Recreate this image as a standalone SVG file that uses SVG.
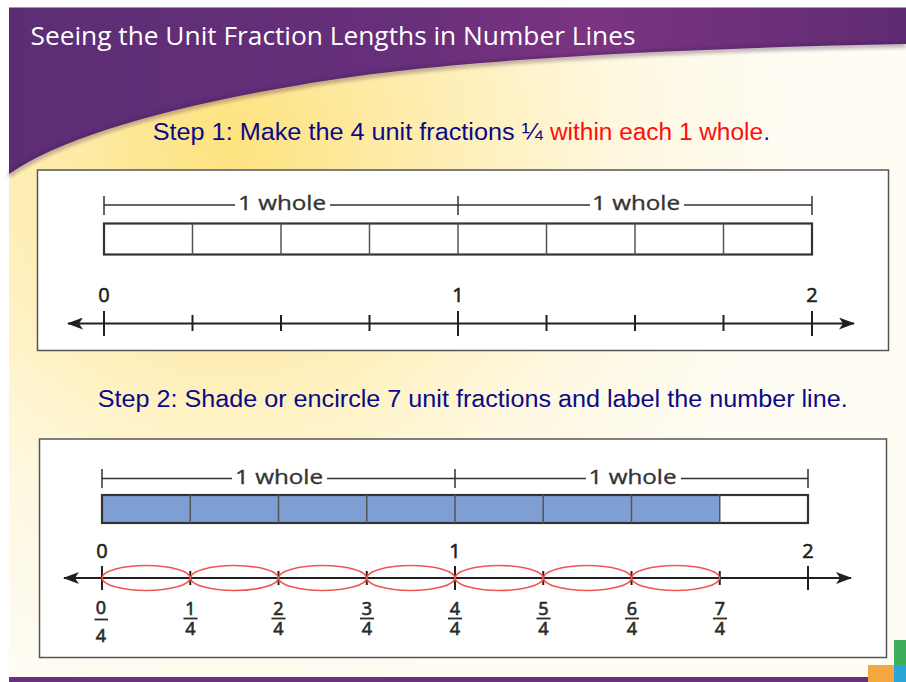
<svg xmlns="http://www.w3.org/2000/svg" width="906" height="682" viewBox="0 0 906 682">
  <defs>
    <style>
      .title { font-family: "Open Sans", "Liberation Sans", sans-serif; font-size: 25px; fill: #ffffff; }
      .step { font-family: "Liberation Sans", Arial, sans-serif; font-size: 23px; fill: #0a0a86; }
      .red { fill: #ff0d0d; }
      .lbl { font-family: "Open Sans", "Liberation Sans", sans-serif; font-size: 20px; fill: #231f20; stroke: #231f20; stroke-width: 0.6; text-anchor: middle; }
      .whole { font-family: "Open Sans", "Liberation Sans", sans-serif; font-size: 20px; fill: #333333; stroke: #333333; stroke-width: 0.35; text-anchor: middle; }
      .frac { font-family: "Open Sans", "Liberation Sans", sans-serif; font-size: 18px; fill: #2b2b2b; stroke: #2b2b2b; stroke-width: 0.7; text-anchor: middle; }
      .box { fill: #ffffff; stroke: #555555; stroke-width: 1.5; }
      .brk { stroke: #333333; stroke-width: 1.5; fill: none; }
      .bar { fill: none; stroke: #333333; stroke-width: 2.2; }
      .div { stroke: #555555; stroke-width: 1.5; }
      .nl { stroke: #231f20; stroke-width: 2.2; fill: none; }
      .tk { stroke: #231f20; stroke-width: 2; }
      .fb { stroke: #2b2b2b; stroke-width: 1.8; }
      .ell { fill: none; stroke: #f2554d; stroke-width: 1.6; }
    </style>
    <linearGradient id="purp" x1="0" y1="0" x2="1" y2="0">
      <stop offset="0" stop-color="#5c2d75"/>
      <stop offset="0.45" stop-color="#682f7b"/>
      <stop offset="0.65" stop-color="#7b3481"/>
      <stop offset="1" stop-color="#5f2b72"/>
    </linearGradient>
    <radialGradient id="glow" cx="230" cy="140" r="560" gradientUnits="userSpaceOnUse">
      <stop offset="0" stop-color="#fde27e"/>
      <stop offset="0.35" stop-color="#feedb0"/>
      <stop offset="0.7" stop-color="#fef8e0"/>
      <stop offset="1" stop-color="#fefcf3"/>
    </radialGradient>
    <filter id="blur" x="-5%" y="-50%" width="110%" height="200%">
      <feGaussianBlur stdDeviation="2"/>
    </filter>
    <marker id="arr" viewBox="0 0 16 12" markerWidth="16" markerHeight="12" refX="15" refY="6" orient="auto-start-reverse" markerUnits="userSpaceOnUse">
      <path d="M0,0 L16,6 L0,12 L4,6 Z" fill="#231f20"/>
    </marker>
  </defs>

  <!-- background -->
  <rect x="0" y="0" width="906" height="682" fill="#ffffff"/>
  <rect x="9" y="7.5" width="897" height="674.5" fill="url(#glow)"/>
  <path d="M9,7.5 H906 V44 C700,48 450,58 300,85 C170,106 60,138 9,174 Z" fill="url(#purp)"/>
  <path d="M906,45 C700,49 450,59 300,86 C170,107 60,139 9,175" fill="none" stroke="#351447" stroke-width="3" opacity="0.55" filter="url(#blur)"/>
  <text class="title" x="30.5" y="45" textLength="605" lengthAdjust="spacingAndGlyphs">Seeing the Unit Fraction Lengths in Number Lines</text>

  <!-- bottom decoration -->
  <rect x="9" y="677" width="859" height="5" fill="#6a2f7d"/>
  <rect x="894" y="640" width="12" height="25" fill="#3fae5a"/>
  <rect x="868" y="665" width="26" height="17" fill="#f4a640"/>
  <rect x="894" y="665" width="12" height="17" fill="#2aa6d6"/>

  <!-- step texts -->
  <g id="step1-text">
    <text class="step" x="152.7" y="139.5" textLength="390" lengthAdjust="spacingAndGlyphs">Step 1: Make the 4 unit fractions ¼</text>
    <text class="step red" x="550" y="139.5" textLength="213" lengthAdjust="spacingAndGlyphs">within each 1 whole</text>
    <text class="step" x="763.5" y="139.5">.</text>
  </g>
  <g id="step2-text">
    <text class="step" x="97.7" y="407" textLength="750" lengthAdjust="spacingAndGlyphs">Step 2: Shade or encircle 7 unit fractions and label the number line.</text>
  </g>

  <!-- Step 1 panel -->
  <g id="panel1">
    <rect class="box" x="37.5" y="170" width="851" height="180.5"/>
    <g id="p1-brackets">
      <path class="brk" d="M104,205 H235 M330,205 H590 M684,205 H812 M104,196 V215 M458,196 V215 M812,196 V215"/>
      <text class="whole" x="282" y="210" textLength="88" lengthAdjust="spacingAndGlyphs">1 whole</text>
      <text class="whole" x="636" y="210" textLength="88" lengthAdjust="spacingAndGlyphs">1 whole</text>
    </g>
    <g id="p1-bar">
      <rect class="bar" x="104" y="223.5" width="708" height="31"/>
      <path class="div" d="M192.5,223.5 V254.5 M281,223.5 V254.5 M369.5,223.5 V254.5 M458,223.5 V254.5 M546.5,223.5 V254.5 M635,223.5 V254.5 M723.5,223.5 V254.5"/>
    </g>
    <g id="p1-numberline">
      <line class="nl" x1="68" y1="323.5" x2="854" y2="323.5" marker-start="url(#arr)" marker-end="url(#arr)"/>
      <path class="tk" d="M104,311 V336 M458,311 V336 M812,311 V336 M192.5,315 V331 M281,315 V331 M369.5,315 V331 M546.5,315 V331 M635,315 V331 M723.5,315 V331"/>
      <text class="lbl" x="104" y="302">0</text>
      <text class="lbl" x="458" y="302">1</text>
      <text class="lbl" x="812" y="302">2</text>
    </g>
  </g>

  <!-- Step 2 panel -->
  <g id="panel2">
    <rect class="box" x="39.5" y="439" width="847" height="218.5"/>
    <g id="p2-brackets">
      <path class="brk" d="M102,478.5 H232 M327,478.5 H586 M681,478.5 H808 M102,469 V488 M455,469 V488 M808,469 V488"/>
      <text class="whole" x="279" y="483.5" textLength="88" lengthAdjust="spacingAndGlyphs">1 whole</text>
      <text class="whole" x="632.5" y="483.5" textLength="88" lengthAdjust="spacingAndGlyphs">1 whole</text>
    </g>
    <g id="p2-bar">
      <rect x="102" y="495" width="618" height="28" fill="#7f9ed3"/>
      <rect class="bar" x="102" y="495" width="706" height="28"/>
      <path class="div" d="M190.25,495 V523 M278.5,495 V523 M366.75,495 V523 M455,495 V523 M543.25,495 V523 M631.5,495 V523 M719.75,495 V523"/>
    </g>
    <g id="p2-numberline">
      <line class="nl" x1="64" y1="578" x2="851" y2="578" marker-start="url(#arr)" marker-end="url(#arr)"/>
      <path class="tk" d="M102,566 V590 M455,566 V590 M808,566 V590 M190.25,571 V585 M278.5,571 V585 M366.75,571 V585 M543.25,571 V585 M631.5,571 V585 M719.75,571 V585"/>
      <text class="lbl" x="102" y="558">0</text>
      <text class="lbl" x="455" y="558">1</text>
      <text class="lbl" x="808" y="558">2</text>
    </g>
    <g id="p2-circles">
      <ellipse class="ell" cx="146.1" cy="578" rx="44" ry="12.5"/>
      <ellipse class="ell" cx="234.4" cy="578" rx="44" ry="12.5"/>
      <ellipse class="ell" cx="322.6" cy="578" rx="44" ry="12.5"/>
      <ellipse class="ell" cx="410.9" cy="578" rx="44" ry="12.5"/>
      <ellipse class="ell" cx="499.1" cy="578" rx="44" ry="12.5"/>
      <ellipse class="ell" cx="587.4" cy="578" rx="44" ry="12.5"/>
      <ellipse class="ell" cx="675.6" cy="578" rx="44" ry="12.5"/>
    </g>
    <g id="p2-fractions">
      <g id="f0"><text class="frac" x="101" y="614">0</text><line class="fb" x1="94.5" y1="619.5" x2="108" y2="619.5"/><text class="frac" x="101" y="642">4</text></g>
      <g id="f1"><text class="frac" x="190.5" y="615">1</text><line class="fb" x1="183.5" y1="618.5" x2="197.5" y2="618.5"/><text class="frac" x="190.5" y="635">4</text></g>
      <g id="f2"><text class="frac" x="278.5" y="615">2</text><line class="fb" x1="271.5" y1="618.5" x2="285.5" y2="618.5"/><text class="frac" x="278.5" y="635">4</text></g>
      <g id="f3"><text class="frac" x="367" y="615">3</text><line class="fb" x1="360" y1="618.5" x2="374" y2="618.5"/><text class="frac" x="367" y="635">4</text></g>
      <g id="f4"><text class="frac" x="455" y="615">4</text><line class="fb" x1="448" y1="618.5" x2="462" y2="618.5"/><text class="frac" x="455" y="635">4</text></g>
      <g id="f5"><text class="frac" x="543.5" y="615">5</text><line class="fb" x1="536.5" y1="618.5" x2="550.5" y2="618.5"/><text class="frac" x="543.5" y="635">4</text></g>
      <g id="f6"><text class="frac" x="632" y="615">6</text><line class="fb" x1="625" y1="618.5" x2="639" y2="618.5"/><text class="frac" x="632" y="635">4</text></g>
      <g id="f7"><text class="frac" x="720" y="615">7</text><line class="fb" x1="713" y1="618.5" x2="727" y2="618.5"/><text class="frac" x="720" y="635">4</text></g>
    </g>
  </g>
</svg>
